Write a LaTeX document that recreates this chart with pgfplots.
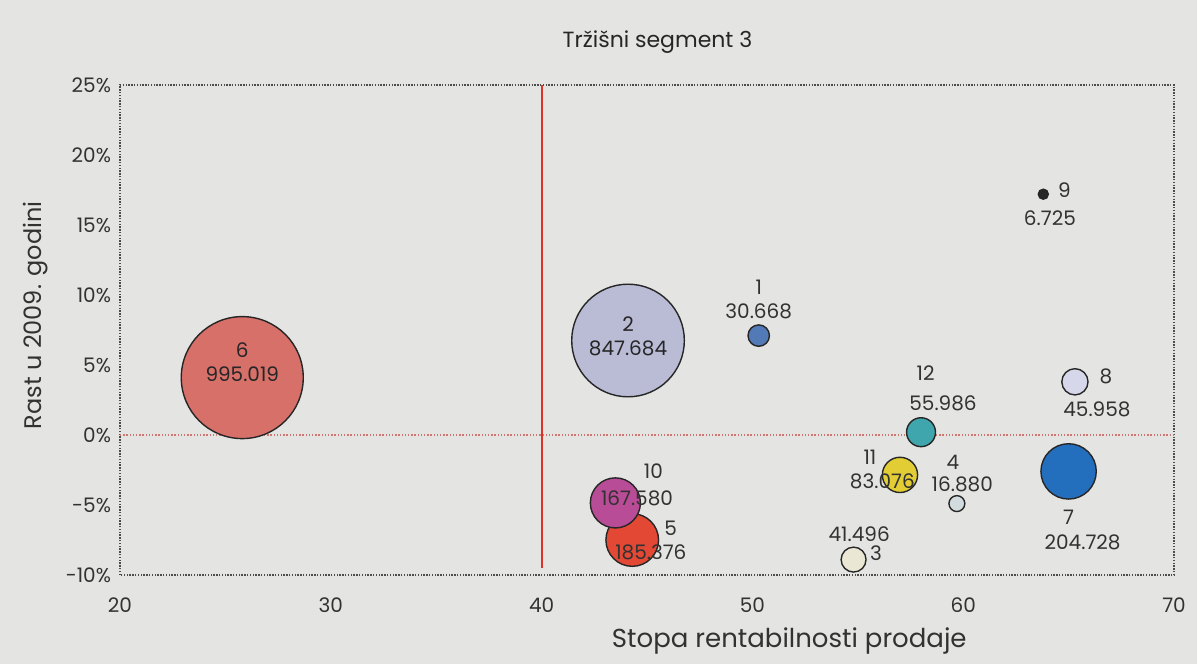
\documentclass[border=0pt]{standalone}
\usepackage{pgfplots}
\pgfplotsset{compat=1.18}
\usepackage{pgfplotstable}
\usepackage{fontspec}
\setmainfont{Poppins}
\definecolor{bg}{RGB}{228,228,226}
\definecolor{txt}{RGB}{50,50,50}
\definecolor{c6}{RGB}{216,112,106}
\definecolor{c2}{RGB}{186,188,214}
\definecolor{c1}{RGB}{82,122,182}
\definecolor{c10}{RGB}{184,76,150}
\definecolor{c5}{RGB}{226,72,52}
\definecolor{c12}{RGB}{62,166,172}
\definecolor{c11}{RGB}{226,206,52}
\definecolor{c4}{RGB}{210,220,222}
\definecolor{c3}{RGB}{234,232,212}
\definecolor{c9}{RGB}{40,40,40}
\definecolor{c8}{RGB}{214,215,234}
\definecolor{c7}{RGB}{36,110,190}
\definecolor{vline}{RGB}{220,50,40}
\definecolor{zeroline}{RGB}{205,120,115}

% row order: 6, 2, 1, 5, 10, 12, 11, 4, 3, 9, 8, 7
\pgfplotstableread{
x y v
25.8 4.1 995.019
44.1 6.75 847.684
50.3 7.1 30.668
44.3 -7.5 185.376
43.5 -4.85 167.580
58.0 0.2 55.986
57.0 -2.85 83.076
59.7 -4.9 16.880
54.8 -8.9 41.496
63.8 17.2 6.725
65.3 3.8 45.958
65.0 -2.6 204.728
}\bubbles

\pgfplotsset{bub/.style 2 args={scatter, only marks, mark=*,
  restrict expr to domain={\coordindex}{#1:#1},
  scatter/use mapped color={draw=black!85, fill=#2},
  visualization depends on={0.9669*sqrt(\thisrow{v}) \as \bubr},
  scatter/@pre marker code/.append style={/tikz/mark size=\bubr},
  line width=0.7pt}}

\begin{document}
\begin{tikzpicture}
\path[use as bounding box, fill=bg] (-60pt,-44.5pt) rectangle (538.5pt,287.5pt);
\begin{axis}[
  scale only axis, width=527pt, height=245pt,
  xmin=20, xmax=70, ymin=-10, ymax=25,
  clip=false,
  axis line style={draw=black!70, line width=0.7pt, dash pattern=on 0.7pt off 0.7pt},
  tick style={draw=none},
  xtick={20,30,40,50,60,70},
  xticklabels={20,30,40,50,60,70},
  ytick={-10,-5,0,5,10,15,20,25},
  yticklabels={-10\%,-5\%,0\%,5\%,10\%,15\%,20\%,25\%},
  ticklabel style={font=\fontsize{10}{12}\selectfont, text=txt},
  xticklabel style={yshift=-8pt},
  yticklabel style={xshift=-1pt},
  title={Tržišni segment 3},
  every axis title/.style={at={(rel axis cs:0.51,1)}, yshift=21.5pt, anchor=center, font=\fontsize{11}{13}\selectfont, text=black!85},
  xlabel={Stopa rentabilnosti prodaje},
  every axis x label/.style={at={(rel axis cs:0.635,0)}, yshift=-33pt, anchor=center, font=\fontsize{13}{15}\selectfont, text=txt},
  ylabel={Rast u 2009. godini},
  every axis y label/.style={at={(rel axis cs:0,0.53)}, xshift=-42pt, rotate=90, anchor=center, font=\fontsize{12}{14}\selectfont, text=txt},
]
\draw[draw=zeroline, line width=0.7pt, dash pattern=on 0.7pt off 0.9pt] (axis cs:20,0) -- (axis cs:70,0);
\draw[draw=vline, line width=0.9pt] (axis cs:40,-9.5) -- (axis cs:40,25);

\addplot[bub={0}{c6}] table[x=x,y=y] {\bubbles};
\addplot[bub={1}{c2}] table[x=x,y=y] {\bubbles};
\addplot[bub={2}{c1}] table[x=x,y=y] {\bubbles};
\addplot[bub={3}{c5}] table[x=x,y=y] {\bubbles};
\addplot[bub={4}{c10}] table[x=x,y=y] {\bubbles};
\addplot[bub={5}{c12}] table[x=x,y=y] {\bubbles};
\addplot[bub={6}{c11}] table[x=x,y=y] {\bubbles};
\addplot[bub={7}{c4}] table[x=x,y=y] {\bubbles};
\addplot[bub={8}{c3}] table[x=x,y=y] {\bubbles};
\addplot[bub={9}{c9}] table[x=x,y=y] {\bubbles};
\addplot[bub={10}{c8}] table[x=x,y=y] {\bubbles};
\addplot[bub={11}{c7}] table[x=x,y=y] {\bubbles};

\coordinate (p6) at (axis cs:25.8,4.1);
\coordinate (p2) at (axis cs:44.1,6.75);
\coordinate (p1) at (axis cs:50.3,7.1);
\coordinate (p5) at (axis cs:44.3,-7.5);
\coordinate (p10) at (axis cs:43.5,-4.85);
\coordinate (p12) at (axis cs:58.0,0.2);
\coordinate (p11) at (axis cs:57.0,-2.85);
\coordinate (p4) at (axis cs:59.7,-4.9);
\coordinate (p3) at (axis cs:54.8,-8.9);
\coordinate (p9) at (axis cs:63.8,17.2);
\coordinate (p8) at (axis cs:65.3,3.8);
\coordinate (p7) at (axis cs:65.0,-2.6);
\end{axis}

\begin{scope}[every node/.style={font=\fontsize{10}{12}\selectfont, text=txt, align=center, inner sep=0pt}]
\node[text=black!85] at ([yshift=7.5pt]p6) {6\\995.019};
\node[text=black!85] at ([yshift=2pt]p2) {2\\847.684};
\node at ([yshift=18pt]p1) {1\\30.668};
\node at ([xshift=19pt, yshift=15.7pt]p10) {10};
\node at ([xshift=10.8pt, yshift=2.4pt]p10) {167.580};
\node at ([xshift=19.2pt, yshift=5.7pt]p5) {5};
\node at ([xshift=9.3pt, yshift=-6pt]p5) {185.376};
\node at ([xshift=2.3pt, yshift=29.4pt]p12) {12};
\node at ([xshift=11pt, yshift=14.5pt]p12) {55.986};
\node at ([xshift=-15pt, yshift=8.8pt]p11) {11};
\node at ([xshift=-8.8pt, yshift=-3.3pt]p11) {83.076};
\node at ([xshift=-2pt, yshift=20.5pt]p4) {4};
\node at ([xshift=2.7pt, yshift=9.7pt]p4) {16.880};
\node at ([xshift=2.8pt, yshift=12.5pt]p3) {41.496};
\node at ([xshift=11.2pt, yshift=3pt]p3) {3};
\node at ([xshift=10.5pt, yshift=2pt]p9) {9};
\node at ([xshift=3.3pt, yshift=-12pt]p9) {6.725};
\node at ([xshift=15.5pt, yshift=2.6pt]p8) {8};
\node at ([xshift=11pt, yshift=-13.7pt]p8) {45.958};
\node at ([yshift=-22.8pt]p7) {7};
\node at ([xshift=7pt, yshift=-35.5pt]p7) {204.728};
\end{scope}
\end{tikzpicture}
\end{document}
